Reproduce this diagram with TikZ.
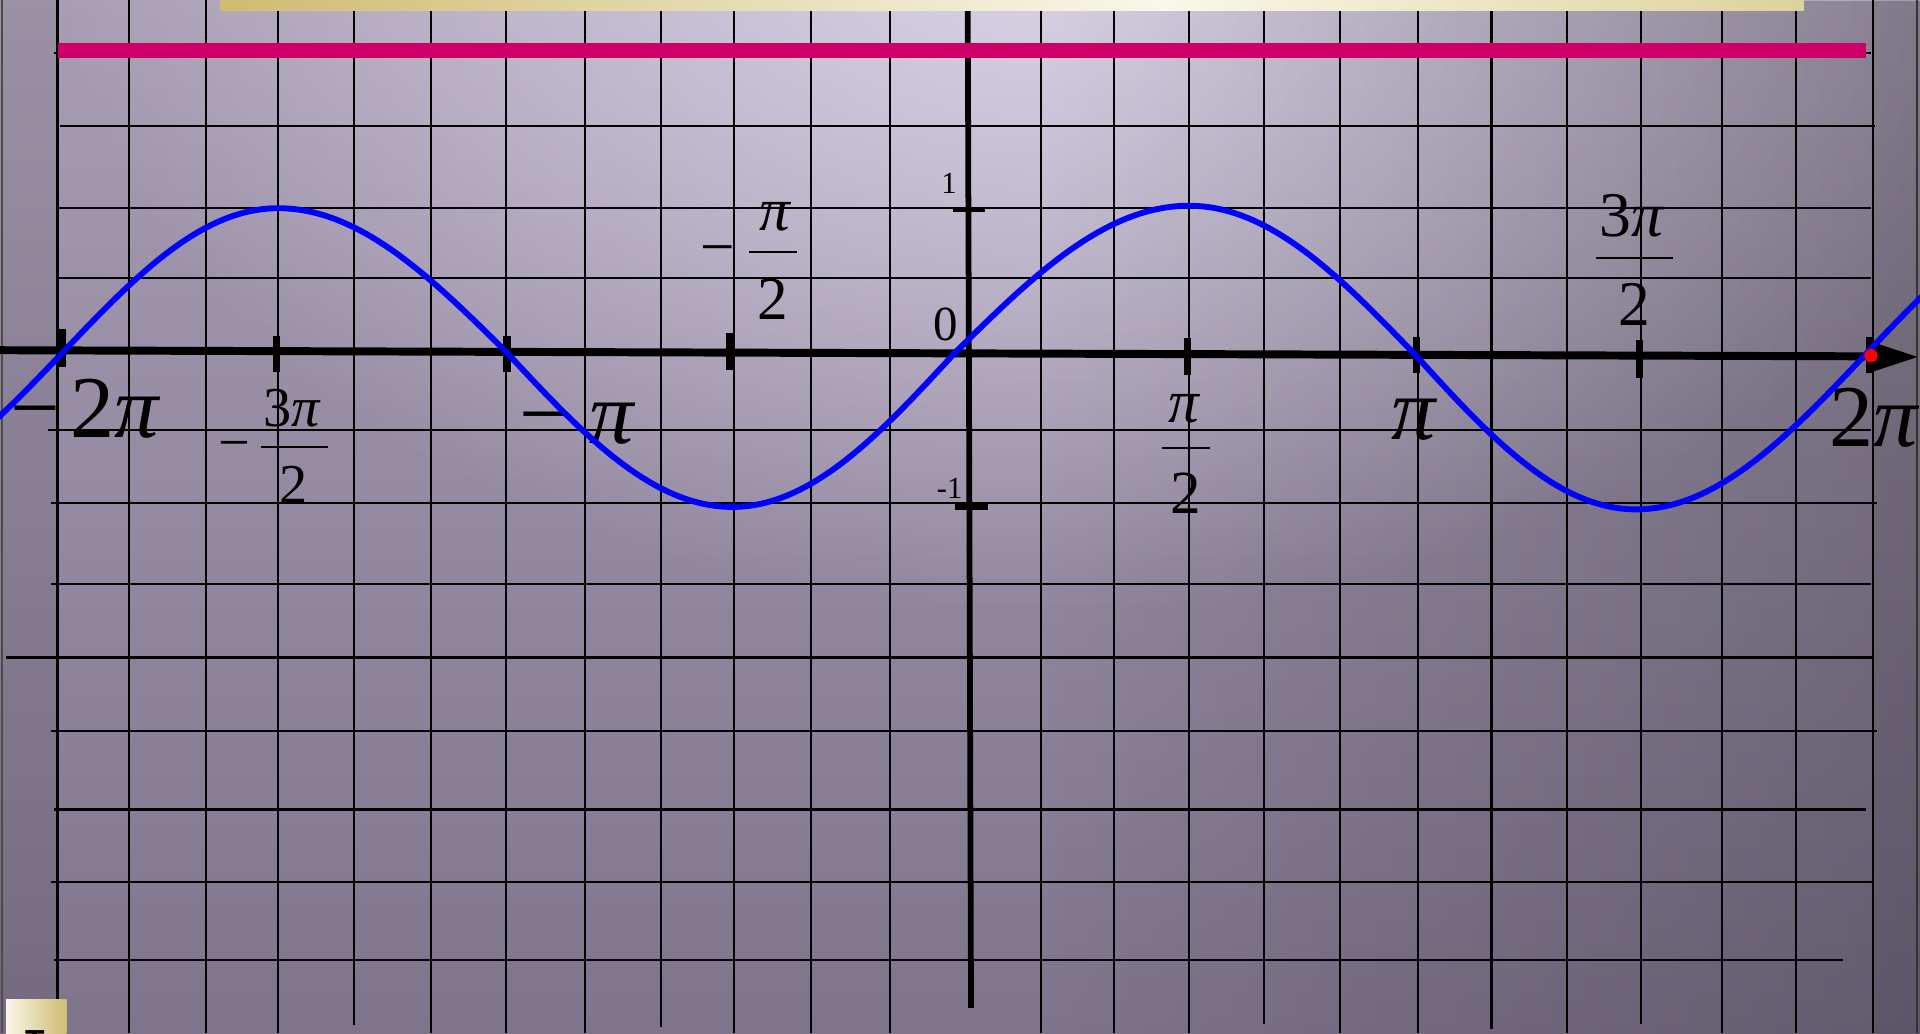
\documentclass[tikz,border=0pt]{standalone}
\usepackage{fontspec}
\setmainfont{Liberation Serif}
\newfontfamily\sansfnt{Liberation Sans}
\usetikzlibrary{fadings}
\definecolor{bgtop}{RGB}{168,158,180}
\definecolor{bgbot}{RGB}{126,116,140}
\definecolor{bglight}{RGB}{220,213,232}
\definecolor{pinkbar}{RGB}{204,0,102}
\definecolor{goldA}{RGB}{206,188,112}
\definecolor{goldB}{RGB}{222,210,155}
\definecolor{creamC}{RGB}{250,247,235}
\tikzfading[name=glowfade, inner color=transparent!0, outer color=transparent!100]
\tikzfading[name=rightfade, left color=transparent!100, right color=transparent!0]
\begin{document}
\begin{tikzpicture}[x=1pt,y=-1pt,
  gridline/.style={line width=1.8pt, black},
  axisline/.style={line width=6.5pt, black},
  tickmark/.style={line width=6pt, black},
  ytickmark/.style={line width=4.5pt, black},
  fracbar/.style={line width=1.8pt, black},
  curve/.style={line width=4.8pt, blue, line join=round},
  biglbl/.style={inner sep=0pt, font=\fontsize{72}{72}\selectfont},
  lblA/.style={inner sep=0pt, font=\fontsize{46}{46}\selectfont},
  lblB/.style={inner sep=0pt, font=\fontsize{50}{50}\selectfont},
  lblC/.style={inner sep=0pt, font=\fontsize{52}{52}\selectfont},
  lblS/.style={inner sep=0pt, font=\fontsize{25}{25}\selectfont},
  lblZ/.style={inner sep=0pt, font=\fontsize{40}{40}\selectfont}]
\useasboundingbox (0,0) rectangle (1568,844);
\clip (0,0) rectangle (1568,844);
% background
\shade[top color=bgtop, bottom color=bgbot] (0,0) rectangle (1568,844);
\fill[bglight, path fading=glowfade] (860,-60) ellipse [x radius=820pt, y radius=560pt];
\fill[black, fill opacity=0.22, path fading=rightfade] (850,0) rectangle (1568,844);
\fill[black, fill opacity=0.08] (0,0) rectangle (47,844);
\fill[black, fill opacity=0.05] (1529,0) rectangle (1568,844);
% horizontal grid lines
\draw[gridline] (44,43) -- (1528,43);
\draw[gridline] (49,103) -- (1531,103);
\draw[gridline] (47,170) -- (1528,170);
\draw[gridline] (47,227) -- (1528,227);
\draw[gridline] (39,351) -- (1528,351);
\draw[gridline] (42,411) -- (1533,411);
\draw[gridline] (42,477) -- (1528,477);
\draw[gridline] (5,537) -- (1530,537);
\draw[gridline] (42,597) -- (1533,597);
\draw[gridline] (44,661) -- (1524,661);
\draw[gridline] (42,720) -- (1529,720);
\draw[gridline] (44,784) -- (1505,784);
% vertical grid lines
\draw[gridline, black!70] (1.5,0) -- (1.5,844);
\foreach \gx in {47,105.5,168,227,352,413.5,478,599.5,662.5,726.5,850,910,971,1094,1158,1280,1406.5,1467,1529.5}
  \draw[gridline] (\gx,0) -- (\gx,844);
\foreach \gx/\gy in {289/837,540/839,1032/836,1218/840,1340/836}
  \draw[gridline] (\gx,0) -- (\gx,\gy);
\draw[gridline, black!80] (1565.5,0) -- (1565.5,844);
% y axis
\draw[line width=4.7pt, black] (790.3,0) -- (793,823);
% top bars
\shade[left color=goldA, right color=creamC] (180,0) rectangle (950,8.7);
\shade[left color=creamC, right color=goldB] (950,0) rectangle (1473,8.7);
\fill[pinkbar] (47,35.5) rectangle (1523.6,47.5);
% x axis with arrow
\draw[axisline] (0,286) -- (1525,291);
\fill[black] (1525,278) -- (1566,291.5) -- (1525,305) -- cycle;
% x ticks
\draw[tickmark] (51,269) -- (51,300);
\draw[tickmark] (226,274) -- (226,304);
\draw[tickmark] (414,274) -- (414,304);
\draw[tickmark] (596,272) -- (596,302);
\draw[tickmark] (970,276) -- (970,306);
\draw[tickmark] (1157,275) -- (1157,305);
\draw[tickmark] (1339,278) -- (1339,309);
\draw[tickmark] (1527,275) -- (1527,305);
% y ticks
\draw[ytickmark] (778,171) -- (804,171);
\draw[ytickmark] (780,414) -- (807,414);
% labels
\node[biglbl, anchor=base west] (lmtwopi) at (8,357) {−\hspace{9pt}2\textit{π}};
\node[biglbl, anchor=base west] (lmpi) at (424,362) {−\hspace{17pt}\textit{π}};
\node[biglbl, anchor=base] (lpi) at (1155,359) {\textit{π}};
\node[biglbl, anchor=base west] (ltwopi) at (1493.5,365) {2\textit{π}};
% -3pi/2
\node[lblA, anchor=base] (mthreenum) at (239,348) {3\textit{π}};
\draw[fracbar] (213,365) -- (268,365);
\node[lblA, anchor=base] (mthreeden) at (240,411) {2};
\node[lblA, anchor=base] (mthreesign) at (191.5,376.5) {−};
% -pi/2
\node[lblB, anchor=base] (mhalfnum) at (633.5,188) {\textit{π}};
\draw[fracbar] (612,206) -- (651,206);
\node[lblB, anchor=base] (mhalfden) at (631.5,261) {2};
\node[lblB, anchor=base] (mhalfsign) at (586.5,218.5) {−};
% pi/2
\node[lblB, anchor=base] (halfnum) at (967,345) {\textit{π}};
\draw[fracbar] (949,366) -- (988,366);
\node[lblB, anchor=base] (halfden) at (968,419) {2};
% 3pi/2
\node[lblC, anchor=base] (threenum) at (1333,193) {3\textit{π}};
\draw[fracbar] (1303,211) -- (1366,211);
\node[lblC, anchor=base] (threeden) at (1334.5,266) {2};
% y labels
\node[lblS, anchor=base] (yone) at (775,158) {1};
\node[lblZ, anchor=base] (yzero) at (772.5,278) {0};
\node[lblS, anchor=base] (ymone) at (775.5,407) {-1};
% sine curve
\draw[curve]
  plot[domain=-0.36:1, samples=40] ({52+175*\x},{287-117*sin(90*\x)})
  -- plot[domain=0:1, samples=40] ({227+187*\x},{288-118*cos(90*\x)})
  -- plot[domain=0:1, samples=40] ({414+184*\x},{288+126*sin(90*\x)})
  -- plot[domain=0:1, samples=40] ({598+181*\x},{289+125*cos(90*\x)})
  -- plot[domain=0:1, samples=40] ({779+192*\x},{289-121*sin(90*\x)})
  -- plot[domain=0:1, samples=40] ({971+185*\x},{290-122*cos(90*\x)})
  -- plot[domain=0:1, samples=40] ({1156+180*\x},{290+126*sin(90*\x)})
  -- plot[domain=0:1, samples=40] ({1336+186*\x},{291+125*cos(90*\x)})
  -- plot[domain=0:0.32, samples=15] ({1522+186*\x},{291-125*sin(90*\x)});
\fill[red] (1528,290.5) circle [radius=5.5pt];
% bottom-left box
\shade[left color=creamC, right color=goldA] (5,816) rectangle (54.5,844);
\node[inner sep=0pt, anchor=north, font=\sansfnt\bfseries\fontsize{26}{26}\selectfont] (tglyph) at (28.5,841.5) {T};
\end{tikzpicture}
\end{document}
